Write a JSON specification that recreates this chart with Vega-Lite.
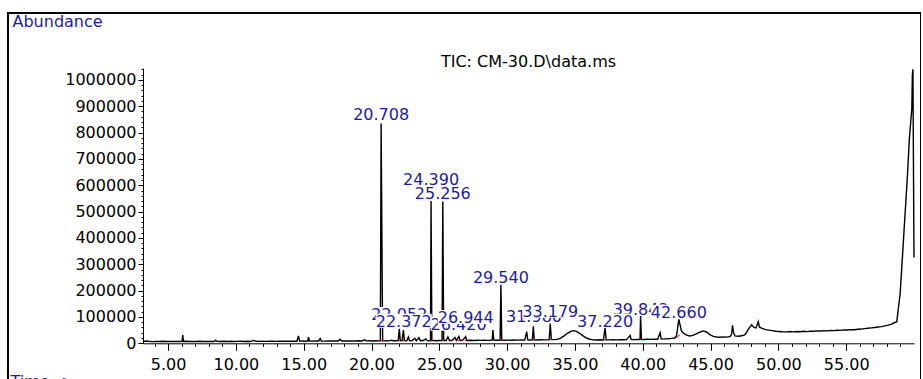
{
  "$schema": "https://vega.github.io/schema/vega-lite/v6.json",
  "width": 913,
  "height": 380,
  "autosize": "none",
  "padding": {"left": 8, "top": 13, "right": 0, "bottom": 0},
  "background": "white",
  "title": {"text": "TIC: CM-30.D\\data.ms", "frame": "group", "anchor": "middle", "offset": -70, "dx": 64, "baseline": "alphabetic", "font": "DejaVu Sans", "fontSize": 16, "fontWeight": "normal", "color": "black"},
  "config": {
    "view": {"stroke": "black", "strokeWidth": 2},
    "axis": {"grid": false, "domainColor": "black", "tickColor": "black", "labelColor": "black", "labelFont": "DejaVu Sans", "labelFontSize": 16, "titleFont": "DejaVu Sans", "titleFontSize": 16, "titleFontWeight": "normal", "titleColor": "#1c1c9c", "labelOverlap": false, "labelFlush": false}
  },
  "datasets": {
    "trace": [
      {"t":3.15,"a":7000},{"t":3.4,"a":8500},{"t":3.6,"a":7500},{"t":3.85,"a":6500},{"t":4.1,"a":7200},{"t":4.35,"a":6800},{"t":4.6,"a":7600},{"t":4.85,"a":6900},{"t":5.1,"a":7300},{"t":5.35,"a":6600},{"t":5.6,"a":7400},{"t":5.85,"a":7000},{"t":6.03,"a":7200},{"t":6.08,"a":31000},{"t":6.13,"a":7100},{"t":6.35,"a":7500},{"t":6.6,"a":6800},{"t":6.85,"a":7300},{"t":7.1,"a":6900},{"t":7.35,"a":7700},{"t":7.6,"a":7000},{"t":7.85,"a":6700},{"t":8.1,"a":7400},{"t":8.4,"a":7100},{"t":8.5,"a":11500},{"t":8.6,"a":7200},{"t":8.85,"a":6900},{"t":9.1,"a":7600},{"t":9.35,"a":7100},{"t":9.6,"a":7500},{"t":9.85,"a":6900},{"t":10.1,"a":7400},{"t":10.35,"a":7800},{"t":10.6,"a":7100},{"t":10.85,"a":7500},{"t":11.1,"a":7000},{"t":11.3,"a":11000},{"t":11.5,"a":7600},{"t":11.75,"a":7200},{"t":12.0,"a":7800},{"t":12.25,"a":7300},{"t":12.5,"a":7600},{"t":12.75,"a":8000},{"t":13.0,"a":7400},{"t":13.25,"a":7900},{"t":13.5,"a":7500},{"t":13.75,"a":8100},{"t":14.0,"a":7700},{"t":14.25,"a":8300},{"t":14.5,"a":7900},{"t":14.61,"a":28000},{"t":14.7,"a":8200},{"t":14.9,"a":8600},{"t":15.1,"a":8000},{"t":15.3,"a":8400},{"t":15.35,"a":23000},{"t":15.42,"a":8800},{"t":15.6,"a":8300},{"t":15.85,"a":9000},{"t":16.1,"a":8500},{"t":16.21,"a":18000},{"t":16.3,"a":8700},{"t":16.55,"a":8300},{"t":16.8,"a":9000},{"t":17.05,"a":8500},{"t":17.3,"a":9200},{"t":17.55,"a":8700},{"t":17.68,"a":15000},{"t":17.8,"a":8800},{"t":18.05,"a":9300},{"t":18.3,"a":8700},{"t":18.55,"a":9100},{"t":18.8,"a":8800},{"t":19.05,"a":9400},{"t":19.3,"a":8900},{"t":19.5,"a":13000},{"t":19.6,"a":9100},{"t":19.85,"a":9500},{"t":20.1,"a":9000},{"t":20.35,"a":9600},{"t":20.55,"a":9200},{"t":20.65,"a":9300},{"t":20.708,"a":834000},{"t":20.82,"a":9500},
      {"t":20.95,"a":9200},{"t":21.1,"a":9800},{"t":21.3,"a":9300},{"t":21.5,"a":12000},{"t":21.6,"a":9500},{"t":21.8,"a":9900},{"t":21.97,"a":10000},{"t":22.05,"a":55000},{"t":22.12,"a":10200},{"t":22.25,"a":9800},{"t":22.35,"a":50000},{"t":22.42,"a":10100},{"t":22.6,"a":9700},{"t":22.72,"a":24000},{"t":22.8,"a":9900},{"t":23.0,"a":10300},{"t":23.2,"a":19000},{"t":23.3,"a":9800},{"t":23.5,"a":21000},{"t":23.6,"a":10000},{"t":23.8,"a":10400},{"t":24.0,"a":17000},{"t":24.1,"a":10100},{"t":24.3,"a":9800},{"t":24.35,"a":10000},{"t":24.39,"a":540000},{"t":24.45,"a":10200},{"t":24.6,"a":10500},{"t":24.8,"a":9900},{"t":25.0,"a":10600},{"t":25.2,"a":10300},{"t":25.256,"a":538000},{"t":25.32,"a":10400},{"t":25.5,"a":10800},{"t":25.63,"a":24000},{"t":25.75,"a":10500},{"t":25.95,"a":11000},{"t":26.15,"a":22000},{"t":26.25,"a":10600},{"t":26.44,"a":26000},{"t":26.52,"a":10800},{"t":26.7,"a":11200},{"t":26.94,"a":25000},{"t":27.02,"a":10900},{"t":27.3,"a":11300},{"t":27.55,"a":10800},{"t":27.8,"a":11500},{"t":28.05,"a":11000},{"t":28.3,"a":11600},{"t":28.5,"a":11200},{"t":28.75,"a":11800},{"t":28.9,"a":13000},{"t":28.95,"a":50000},{"t":29.02,"a":12000},{"t":29.25,"a":11500},{"t":29.48,"a":11900},{"t":29.54,"a":222000},{"t":29.6,"a":12100},{"t":29.8,"a":11600},{"t":30.05,"a":12200},{"t":30.3,"a":11800},{"t":30.55,"a":12400},{"t":30.8,"a":12000},{"t":31.05,"a":12600},{"t":31.3,"a":12200},{"t":31.44,"a":44000},{"t":31.52,"a":12800},{"t":31.7,"a":12400},{"t":31.86,"a":13000},{"t":31.93,"a":65000},{"t":32.0,"a":13200},{"t":32.25,"a":12800},{"t":32.5,"a":13400},{"t":32.75,"a":13000},{"t":33.0,"a":13600},{"t":33.1,"a":14000},{"t":33.18,"a":75000},{"t":33.26,"a":14200},{"t":33.45,"a":13800},{"t":33.7,"a":15000},{"t":33.95,"a":20000},{"t":34.2,"a":28000},{"t":34.45,"a":38000},{"t":34.7,"a":45000},{"t":34.9,"a":48000},{"t":35.1,"a":45000},{"t":35.35,"a":38000},{"t":35.6,"a":28000},{"t":35.85,"a":20000},{"t":36.1,"a":15500},{"t":36.35,"a":13000},{"t":36.6,"a":12500},{"t":36.85,"a":13200},{"t":37.1,"a":12800},{"t":37.22,"a":59000},{"t":37.3,"a":13300},{"t":37.55,"a":12900},{"t":37.8,"a":13600},{"t":38.05,"a":13100},{"t":38.3,"a":13800},{"t":38.55,"a":13300},{"t":38.8,"a":14000},{"t":39.07,"a":30000},{"t":39.15,"a":14200},{"t":39.4,"a":13800},{"t":39.65,"a":14500},{"t":39.8,"a":14800},{"t":39.84,"a":105000},{"t":39.9,"a":15000},{"t":40.1,"a":14600},{"t":40.35,"a":15400},{"t":40.6,"a":15000},{"t":40.85,"a":15800},{"t":41.1,"a":15500},{"t":41.28,"a":40000},{"t":41.36,"a":16000},{"t":41.6,"a":16800},{"t":41.85,"a":17500},{"t":42.1,"a":18500},{"t":42.35,"a":20000},{"t":42.5,"a":30000},{"t":42.6,"a":70000},{"t":42.66,"a":91000},{"t":42.75,"a":70000},{"t":42.85,"a":48000},{"t":43.0,"a":38000},{"t":43.2,"a":32000},{"t":43.45,"a":28000},{"t":43.7,"a":30000},{"t":43.95,"a":36000},{"t":44.2,"a":42000},{"t":44.45,"a":47000},{"t":44.7,"a":43000},{"t":44.95,"a":33000},{"t":45.2,"a":26000},{"t":45.45,"a":24000},{"t":45.7,"a":23000},{"t":45.95,"a":24500},{"t":46.2,"a":23500},{"t":46.45,"a":26000},{"t":46.55,"a":35000},{"t":46.62,"a":68000},{"t":46.7,"a":40000},{"t":46.8,"a":28000},{"t":47.05,"a":27000},{"t":47.3,"a":28500},{"t":47.55,"a":33000},{"t":47.8,"a":55000},{"t":48.03,"a":70000},{"t":48.2,"a":60000},{"t":48.35,"a":58000},{"t":48.45,"a":72000},{"t":48.52,"a":82000},{"t":48.6,"a":62000},{"t":48.8,"a":57000},{"t":49.05,"a":52000},{"t":49.3,"a":50000},{"t":49.55,"a":48000},{"t":49.8,"a":46000},{"t":50.05,"a":45000},{"t":50.3,"a":44000},{"t":50.6,"a":43500},{"t":50.85,"a":44500},{"t":51.1,"a":43500},{"t":51.35,"a":45000},{"t":51.6,"a":44000},{"t":51.85,"a":45500},{"t":52.1,"a":44500},{"t":52.35,"a":46000},{"t":52.6,"a":45500},{"t":52.85,"a":47000},{"t":53.1,"a":46500},{"t":53.35,"a":48000},{"t":53.6,"a":47000},{"t":53.85,"a":48500},{"t":54.1,"a":48000},{"t":54.35,"a":49500},{"t":54.6,"a":49000},{"t":54.85,"a":51000},{"t":55.1,"a":50500},{"t":55.35,"a":52000},{"t":55.6,"a":51500},{"t":55.85,"a":53500},{"t":56.1,"a":54000},{"t":56.35,"a":55500},{"t":56.6,"a":57000},{"t":56.85,"a":58500},{"t":57.1,"a":60000},{"t":57.35,"a":62000},{"t":57.6,"a":63500},{"t":57.85,"a":66000},{"t":58.1,"a":69000},{"t":58.35,"a":73000},{"t":58.55,"a":78000},{"t":58.73,"a":82000},{"t":58.98,"a":189000},{"t":59.22,"a":389000},{"t":59.52,"a":640000},{"t":59.66,"a":778000},{"t":59.76,"a":841000},{"t":59.84,"a":892000},{"t":59.88,"a":1018000},{"t":59.92,"a":1040000},{"t":60.0,"a":326000}
    ],
    "baselines": [
      {"t":20.6,"a":9200,"t2":20.85,"a2":9500},
      {"t":21.97,"a":10000,"t2":22.12,"a2":10200},
      {"t":22.3,"a":9800,"t2":22.45,"a2":10100},
      {"t":24.33,"a":10000,"t2":24.47,"a2":10200},
      {"t":25.2,"a":10300,"t2":25.34,"a2":10400},
      {"t":26.35,"a":10700,"t2":26.5,"a2":10800},
      {"t":26.88,"a":11000,"t2":27.02,"a2":10900},
      {"t":29.45,"a":11900,"t2":29.65,"a2":12100},
      {"t":31.85,"a":13000,"t2":32.05,"a2":13200},
      {"t":33.1,"a":14000,"t2":33.3,"a2":14200},
      {"t":37.15,"a":12800,"t2":37.32,"a2":13300},
      {"t":39.78,"a":14800,"t2":39.95,"a2":15000},
      {"t":42.45,"a":20000,"t2":42.75,"a2":32000}
    ],
    "peaks": [
      {"t":20.708,"label":"20.708","a":846000,"grp":1},
      {"t":24.39,"label":"24.390","a":602000,"grp":1},
      {"t":22.052,"label":"22.052","a":88000,"grp":1},
      {"t":26.42,"label":"26.420","a":51000,"grp":1},
      {"t":31.98,"label":"31.980","a":82000,"grp":1},
      {"t":39.842,"label":"39.842","a":107500,"grp":1},
      {"t":25.256,"label":"25.256","a":546000,"grp":2},
      {"t":29.54,"label":"29.540","a":228000,"grp":2},
      {"t":22.372,"label":"22.372","a":63000,"grp":2},
      {"t":26.944,"label":"26.944","a":77000,"grp":2},
      {"t":33.179,"label":"33.179","a":101000,"grp":2},
      {"t":37.22,"label":"37.220","a":63000,"grp":2},
      {"t":42.66,"label":"42.660","a":97000,"grp":2}
    ]
  },
  "encoding": {
    "x": {"field": "t", "type": "quantitative",
      "scale": {"domain": [3.15, 60], "range": [135, 906], "nice": false, "zero": false},
      "axis": {"orient": "bottom", "offset": -49.7,
        "values": [4,5,6,7,8,9,10,11,12,13,14,15,16,17,18,19,20,21,22,23,24,25,26,27,28,29,30,31,32,33,34,35,36,37,38,39,40,41,42,43,44,45,46,47,48,49,50,51,52,53,54,55,56,57,58,59],
        "labelExpr": "datum.value % 5 === 0 ? format(datum.value, '.2f') : ''",
        "tickSize": {"condition": {"test": "datum.value % 5 === 0", "value": 7}, "value": 3},
        "labelPadding": 6,
        "title": "Time-->", "titleX": 2, "titleY": 43, "titleAlign": "left", "titleBaseline": "alphabetic", "titleAngle": 0}},
    "y": {"field": "a", "type": "quantitative",
      "scale": {"domain": [0, 1045000], "range": [330.3, 55], "nice": false, "zero": false},
      "axis": {"orient": "left", "offset": -135,
        "values": [0,20000,40000,60000,80000,100000,120000,140000,160000,180000,200000,220000,240000,260000,280000,300000,320000,340000,360000,380000,400000,420000,440000,460000,480000,500000,520000,540000,560000,580000,600000,620000,640000,660000,680000,700000,720000,740000,760000,780000,800000,820000,840000,860000,880000,900000,920000,940000,960000,980000,1000000,1020000,1040000],
        "labelExpr": "datum.value % 100000 === 0 ? format(datum.value, 'd') : ''",
        "tickSize": {"condition": {"test": "datum.value % 100000 === 0", "value": 5}, "value": 2},
        "labelPadding": 2,
        "title": "Abundance", "titleAngle": 0, "titleX": -131, "titleY": 13, "titleAlign": "left", "titleBaseline": "alphabetic"}}
  },
  "layer": [
    {"data": {"name": "trace"}, "mark": {"type": "line", "color": "black", "strokeWidth": 1.4}, "encoding": {}},
    {"data": {"name": "baselines"}, "mark": {"type": "rule", "color": "#d01010", "strokeWidth": 1},
      "encoding": {"x2": {"field": "t2"}, "y2": {"field": "a2"}}},
    {"data": {"name": "peaks"}, "transform": [{"filter": "datum.grp === 1"}],
      "mark": {"type": "point", "shape": "M-1,-0.25H1V0.25H-1Z", "size": 3136, "filled": true, "color": "white", "opacity": 1, "strokeWidth": 0, "yOffset": -6}},
    {"data": {"name": "peaks"}, "transform": [{"filter": "datum.grp === 1"}],
      "mark": {"type": "text", "font": "DejaVu Sans", "fontSize": 16, "color": "#1c1c9c", "align": "center", "baseline": "alphabetic"},
      "encoding": {"text": {"field": "label"}}},
    {"data": {"name": "peaks"}, "transform": [{"filter": "datum.grp === 2"}],
      "mark": {"type": "point", "shape": "M-1,-0.25H1V0.25H-1Z", "size": 3136, "filled": true, "color": "white", "opacity": 1, "strokeWidth": 0, "yOffset": -6}},
    {"data": {"name": "peaks"}, "transform": [{"filter": "datum.grp === 2"}],
      "mark": {"type": "text", "font": "DejaVu Sans", "fontSize": 16, "color": "#1c1c9c", "align": "center", "baseline": "alphabetic"},
      "encoding": {"text": {"field": "label"}}}
  ]
}
